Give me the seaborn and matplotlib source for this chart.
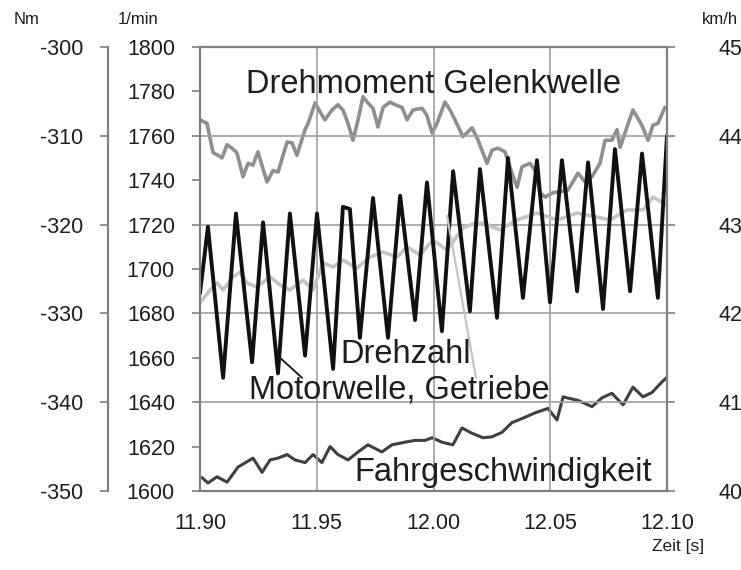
import numpy as np
import seaborn as sns
import matplotlib.pyplot as plt

# Drehzahl Motorwelle (schwarz) [s], [1/min]
t_motor = [11.9000, 11.9034, 11.9099, 11.9154, 11.9223, 11.9270, 11.9334, 11.9385, 11.9450,
           11.9501, 11.9570, 11.9612, 11.9642, 11.9685, 11.9741, 11.9805, 11.9857, 11.9921,
           11.9972, 12.0036, 12.0084, 12.0156, 12.0199, 12.0272, 12.0319, 12.0383, 12.0443,
           12.0499, 12.0550, 12.0615, 12.0662, 12.0726, 12.0777, 12.0842, 12.0893, 12.0961,
           12.1000]
n_motor = [1689, 1719, 1651, 1725, 1658, 1721, 1653, 1725, 1661,
           1725, 1655, 1728, 1727, 1669, 1732, 1669, 1733, 1677,
           1739, 1672, 1744, 1681, 1745, 1678, 1750, 1687, 1749,
           1685, 1749, 1690, 1748, 1682, 1754, 1690, 1752, 1687,
           1760]

# Drehzahl Getriebe (hellgrau) [1/min]
t_getr = [11.9000, 11.9043, 11.9073, 11.9099, 11.9141, 11.9171, 11.9201, 11.9244, 11.9300,
          11.9343, 11.9385, 11.9441, 11.9484, 11.9527, 11.9570, 11.9612, 11.9672, 11.9728,
          11.9784, 11.9844, 11.9887, 11.9942, 11.9998, 12.0058, 12.0126, 12.0169, 12.0212,
          12.0285, 12.0358, 12.0443, 12.0529, 12.0615, 12.0700, 12.0756, 12.0829, 12.0897,
          12.0940, 12.1000]
n_getr = [1684.7, 1690.5, 1693.7, 1690.5, 1696.4, 1698.6, 1693.7, 1691.9, 1696.4,
          1692.8, 1690.5, 1695.0, 1690.5, 1702.7, 1700.9, 1704.0, 1700.4, 1705.4,
          1707.6, 1705.4, 1709.9, 1706.3, 1713.1, 1708.5, 1718.5, 1720.3, 1720.7,
          1717.6, 1722.1, 1725.2, 1722.1, 1725.2, 1723.4, 1722.1, 1726.6, 1726.6,
          1732.4, 1728.8]

# Drehmoment Gelenkwelle [Nm]
t_moment = [11.9000, 11.9030, 11.9056, 11.9077, 11.9094, 11.9116, 11.9137, 11.9158, 11.9184,
            11.9206, 11.9227, 11.9248, 11.9287, 11.9313, 11.9334, 11.9373, 11.9394, 11.9415,
            11.9450, 11.9463, 11.9493, 11.9514, 11.9535, 11.9565, 11.9591, 11.9612, 11.9634,
            11.9655, 11.9677, 11.9698, 11.9719, 11.9741, 11.9762, 11.9784, 11.9814, 11.9835,
            11.9865, 11.9887, 11.9912, 11.9951, 11.9972, 11.9994, 12.0015, 12.0049, 12.0071,
            12.0092, 12.0126, 12.0165, 12.0191, 12.0229, 12.0251, 12.0276, 12.0306, 12.0336,
            12.0358, 12.0379, 12.0413, 12.0435, 12.0456, 12.0478, 12.0512, 12.0542, 12.0576,
            12.0619, 12.0649, 12.0679, 12.0713, 12.0735, 12.0764, 12.0786, 12.0799, 12.0829,
            12.0854, 12.0884, 12.0897, 12.0919, 12.0940, 12.0961, 12.0991]
m_moment = [-308.2, -308.6, -311.9, -312.2, -312.5, -311.0, -311.4, -311.9, -314.6,
            -313.1, -313.3, -311.8, -315.2, -313.9, -314.1, -310.7, -310.8, -312.2,
            -309.3, -308.6, -306.3, -307.3, -308.2, -307.1, -306.5, -307.1, -308.6,
            -310.5, -308.2, -305.6, -306.3, -306.9, -309.0, -306.8, -306.2, -306.5,
            -306.8, -308.2, -307.1, -306.9, -307.7, -309.7, -308.6, -306.2, -307.1,
            -308.2, -310.1, -309.1, -310.5, -313.1, -311.6, -311.4, -311.8, -314.2,
            -315.8, -313.5, -313.1, -313.9, -316.4, -316.9, -316.4, -316.3, -316.1,
            -314.2, -315.2, -314.6, -313.1, -310.5, -310.5, -309.3, -311.3, -309.0,
            -307.1, -308.4, -309.1, -310.5, -308.8, -308.6, -306.8]

# Fahrgeschwindigkeit [km/h]
t_speed = [11.9009, 11.9034, 11.9073, 11.9116, 11.9163, 11.9227, 11.9266, 11.9300, 11.9334,
           11.9373, 11.9407, 11.9450, 11.9484, 11.9522, 11.9557, 11.9591, 11.9634, 11.9677,
           11.9719, 11.9779, 11.9822, 11.9878, 11.9921, 11.9964, 11.9994, 12.0036, 12.0083,
           12.0122, 12.0165, 12.0212, 12.0250, 12.0293, 12.0336, 12.0383, 12.0435, 12.0490,
           12.0529, 12.0555, 12.0619, 12.0679, 12.0722, 12.0764, 12.0812, 12.0854, 12.0897,
           12.0936, 12.0979, 12.1000]
v_speed = [40.15, 40.09, 40.16, 40.10, 40.27, 40.37, 40.21, 40.35, 40.37,
           40.41, 40.35, 40.32, 40.41, 40.32, 40.50, 40.41, 40.35, 40.44,
           40.52, 40.44, 40.52, 40.55, 40.57, 40.57, 40.60, 40.55, 40.52,
           40.71, 40.65, 40.60, 40.61, 40.66, 40.77, 40.82, 40.88, 40.93,
           40.80, 41.06, 41.02, 40.95, 41.05, 41.10, 40.97, 41.17, 41.06,
           41.11, 41.23, 41.28]

# Hinweislinien zu den Beschriftungen
lead_motor_t = [11.9343, 11.9437]
lead_motor_n = [1660, 1651]
lead_getr_t = [12.0058, 12.0182]
lead_getr_n = [1724, 1651]

x_ticks = [11.90, 11.95, 12.00, 12.05, 12.10]

sns.set_style("white")
plt.rcParams['font.family'] = ['Liberation Sans', 'DejaVu Sans']
plt.rcParams['axes.unicode_minus'] = False

txt = "#1e1e1e"
frame = "#808080"
grid_c = "#a0a0a0"
tick_fs = 15.5

fig = plt.figure(figsize=(7.41, 5.70), dpi=100)
ax = fig.add_axes([200/741, 1 - 491/570, 467/741, 444/570])
ax_nm = ax.twinx()
ax_v = ax.twinx()

# order: torque & speed under, rpm lines on top
ax_nm.set_zorder(1)
ax_v.set_zorder(2)
ax.set_zorder(3)
ax.patch.set_visible(False)

sns.lineplot(x=t_moment, y=m_moment, ax=ax_nm, color="#8f8f8f", lw=2.6, sort=False)
sns.lineplot(x=t_speed, y=v_speed, ax=ax_v, color="#404040", lw=2.2, sort=False)
sns.lineplot(x=t_getr, y=n_getr, ax=ax, color="#c4c4c4", lw=2.6, sort=False)
sns.lineplot(x=t_motor, y=n_motor, ax=ax, color="#111111", lw=2.8, sort=False)
ax.plot(lead_motor_t, lead_motor_n, color="#222222", lw=1.4)
ax.plot(lead_getr_t, lead_getr_n, color="#c4c4c4", lw=1.6)

ax.set_xlim(11.90, 12.10)
ax.set_ylim(1600, 1800)
ax_nm.set_ylim(-350, -300)
ax_v.set_ylim(40, 45)

ax.set_xticks(x_ticks)
ax.set_xticklabels([f"{v:.2f}" for v in x_ticks])
ax.set_yticks(np.arange(1600, 1801, 40))
ax.set_yticks(np.arange(1620, 1800, 40), minor=True)
ax.set_yticklabels([str(v) for v in range(1620, 1800, 40)], minor=True)
ax.grid(True, which='major', color=grid_c, lw=1.2)
ax.grid(False, which='minor')
ax.set_axisbelow(True)

for s in ax.spines.values():
    s.set_color(frame)
    s.set_linewidth(1.6)
ax.tick_params(axis='both', which='both', direction='out', length=6, width=1.2,
               color=frame, labelsize=tick_fs, labelcolor=txt)
ax.tick_params(axis='y', which='both', pad=12)
ax.tick_params(axis='x', pad=10)

# Nm axis on the far left
ax_nm.spines['left'].set_position(('axes', -0.197))
ax_nm.spines['left'].set_visible(True)
ax_nm.spines['left'].set_color(frame)
ax_nm.spines['left'].set_linewidth(1.6)
for side in ['right', 'top', 'bottom']:
    ax_nm.spines[side].set_visible(False)
ax_nm.yaxis.set_ticks_position('left')
ax_nm.yaxis.set_label_position('left')
ax_nm.set_yticks(np.arange(-350, -299, 10))
ax_nm.tick_params(axis='y', direction='out', length=6, width=1.2, color=frame,
                  labelsize=tick_fs, labelcolor=txt, pad=12)

# km/h axis on the right
for side in ['left', 'top', 'bottom', 'right']:
    ax_v.spines[side].set_visible(False)
ax_v.set_yticks(np.arange(40, 46, 1))
ax_v.tick_params(axis='y', direction='out', length=6, width=1.2, color=frame,
                 labelsize=tick_fs, labelcolor=txt, pad=31)

for a in (ax, ax_nm, ax_v):
    a.set_xlabel("")
    a.set_ylabel("")

big = 23.5
ax.text(0.499, 0.896, "Drehmoment Gelenkwelle", transform=ax.transAxes, ha='center',
        va='baseline', fontsize=big, color=txt, zorder=10)
ax.text(0.300, 0.288, "Drehzahl", transform=ax.transAxes, ha='left',
        va='baseline', fontsize=big, color=txt, zorder=10)
ax.text(0.105, 0.209, "Motorwelle, Getriebe", transform=ax.transAxes, ha='left',
        va='baseline', fontsize=big, color=txt, zorder=10)
ax.text(0.330, 0.0225, "Fahrgeschwindigkeit", transform=ax.transAxes, ha='left',
        va='baseline', fontsize=big, color=txt, zorder=10)

fig.text(27/741, 1 - 20/570, "Nm", ha='center', va='center', fontsize=12, color=txt)
fig.text(138/741, 1 - 20/570, "1/min", ha='center', va='center', fontsize=12, color=txt)
fig.text(720/741, 1 - 20/570, "km/h", ha='center', va='center', fontsize=12, color=txt)
fig.text(678/741, 1 - 547/570, "Zeit [s]", ha='center', va='center', fontsize=12.5, color=txt)

fig.savefig("out.png", dpi=100, facecolor="white")
